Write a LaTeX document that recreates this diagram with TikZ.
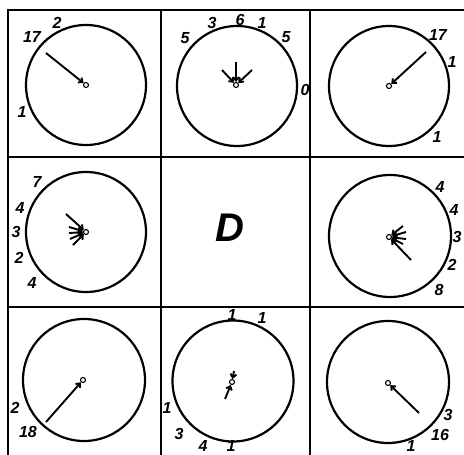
\documentclass[tikz,border=0pt]{standalone}
\usepackage{fontspec}
\newfontfamily\lblfont{Liberation Sans}
\usetikzlibrary{arrows.meta}
\tikzset{
  gridline/.style={line width=1.6pt},
  dial/.style={circle,draw,line width=2.2pt,inner sep=0pt,minimum size=#1},
  hub/.style={circle,draw,line width=1.1pt,fill=white,inner sep=0pt,minimum size=5pt},
  arr/.style={line width=1.9pt,-{Straight Barb[length=3.5pt,width=6pt]}},
  num/.style={font=\lblfont\bfseries\itshape\fontsize{16}{16}\selectfont,inner sep=0pt},
  big/.style={font=\lblfont\bfseries\itshape\fontsize{40}{40}\selectfont,inner sep=0pt}
}
\begin{document}
\begin{tikzpicture}[x=1pt,y=-1pt]
\useasboundingbox (0,0) rectangle (464,455);
% grid
\draw[gridline] (8,455) -- (8,10) -- (464,10);
\draw[gridline] (161,10) -- (161,455);
\draw[gridline] (310,10) -- (310,455);
\draw[gridline] (8,157) -- (464,157);
\draw[gridline] (8,307) -- (464,307);
% cell 1
\node[dial=120pt] (c1) at (86,85) {};
\node[hub] (h1) at (86,85) {};
\coordinate (a1) at (46,53);
\draw[arr] (a1) -- (h1);
\node[num] (n11) at (32,37) {17};
\node[num] (n12) at (57,23) {2};
\node[num] (n13) at (22,112) {1};
% cell 2
\node[dial=120pt] (c2) at (237,86) {};
\node[hub] (h2) at (236,85) {};
\coordinate (a21) at (236,62);
\coordinate (a22) at (222,70);
\coordinate (a23) at (252,70);
\draw[arr] (a21) -- (h2);
\draw[arr] (a22) -- (h2);
\draw[arr] (a23) -- (h2);
\node[num] (n21) at (185,38) {5};
\node[num] (n22) at (212,23) {3};
\node[num] (n23) at (240,20) {6};
\node[num] (n24) at (262,23) {1};
\node[num] (n25) at (286,37) {5};
\node[num] (n26) at (305,90) {0};
% cell 3
\node[dial=120pt] (c3) at (389,86) {};
\node[hub] (h3) at (389,86) {};
\coordinate (a3) at (426,52);
\draw[arr] (a3) -- (h3);
\node[num] (n31) at (438,35) {17};
\node[num] (n32) at (452,62) {1};
\node[num] (n33) at (437,137) {1};
% cell 4
\node[dial=120pt] (c4) at (86,232) {};
\node[hub] (h4) at (86,232) {};
\coordinate (a41) at (66,214);
\coordinate (a42) at (69,227);
\coordinate (a43) at (69,233);
\coordinate (a44) at (70,239);
\coordinate (a45) at (73,245);
\draw[arr] (a41) -- (h4);
\draw[arr] (a42) -- (h4);
\draw[arr] (a43) -- (h4);
\draw[arr] (a44) -- (h4);
\draw[arr] (a45) -- (h4);
\node[num] (n41) at (37,182) {7};
\node[num] (n42) at (20,208) {4};
\node[num] (n43) at (16,232) {3};
\node[num] (n44) at (19,258) {2};
\node[num] (n45) at (32,283) {4};
% centre
\node[big] (d) at (230,228) {D};
% cell 5
\node[dial=122pt] (c5) at (390,236) {};
\node[hub] (h5) at (389,237) {};
\coordinate (a51) at (403,226);
\coordinate (a52) at (406,232);
\coordinate (a53) at (406,239);
\coordinate (a54) at (403,244);
\coordinate (a55) at (411,260);
\draw[arr] (a51) -- (h5);
\draw[arr] (a52) -- (h5);
\draw[arr] (a53) -- (h5);
\draw[arr] (a54) -- (h5);
\draw[arr] (a55) -- (h5);
\node[num] (n51) at (440,187) {4};
\node[num] (n52) at (454,210) {4};
\node[num] (n53) at (457,237) {3};
\node[num] (n54) at (452,265) {2};
\node[num] (n55) at (439,290) {8};
% cell 6
\node[dial=122pt] (c6) at (84,380) {};
\node[hub] (h6) at (83,380) {};
\coordinate (a6) at (46,422);
\draw[arr] (a6) -- (h6);
\node[num] (n61) at (15,408) {2};
\node[num] (n62) at (28,432) {18};
% cell 7
\node[dial=121pt] (c7) at (233,381) {};
\node[hub] (h7) at (232,382) {};
\coordinate (a71) at (225,399);
\coordinate (a72) at (234,371);
\draw[arr] (a71) -- (h7);
\draw[arr] (a72) -- (h7);
\node[num] (n71) at (232,315) {1};
\node[num] (n72) at (262,318) {1};
\node[num] (n73) at (167,408) {1};
\node[num] (n74) at (179,434) {3};
\node[num] (n75) at (203,446) {4};
\node[num] (n76) at (231,446) {1};
% cell 8
\node[dial=122pt] (c8) at (388,382) {};
\node[hub] (h8) at (388,383) {};
\coordinate (a8) at (419,413);
\draw[arr] (a8) -- (h8);
\node[num] (n81) at (448,415) {3};
\node[num] (n82) at (440,435) {16};
\node[num] (n83) at (411,446) {1};
\end{tikzpicture}
\end{document}
